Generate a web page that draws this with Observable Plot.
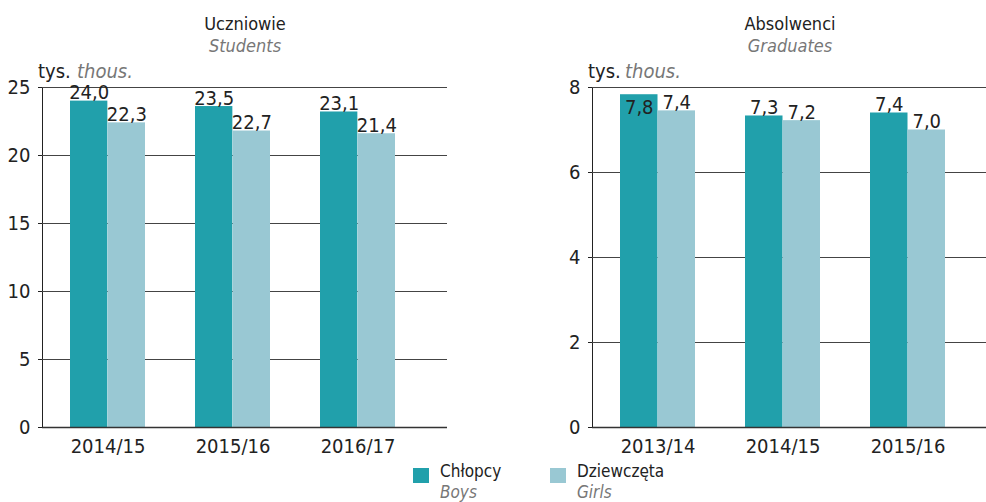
<!DOCTYPE html>
<html>
<head>
<meta charset="utf-8">
<script src="https://cdn.jsdelivr.net/npm/d3@7"></script>
<script src="https://cdn.jsdelivr.net/npm/@observablehq/plot@0.6"></script>
<style>
  html, body { margin: 0; padding: 0; background: #fff; }
  body { width: 986px; height: 502px; position: relative; overflow: hidden;
         font-family: "Liberation Sans Narrow", "DejaVu Sans Condensed", "Roboto Condensed", sans-serif; }
  .abs { position: absolute; white-space: nowrap; font-size: 20px; line-height: normal; }
  .t { font-size: 18px; }
  .lg { font-size: 17px; }
  .pl { color: #222; }
  .en { color: #777; font-style: italic; }
  .center { transform: translateX(-50%); }
  .sq { position: absolute; width: 16px; height: 15px; }
  .panel { position: absolute; top: 60px; }
</style>
</head>
<body>
<div class="abs t pl center" style="left:245px; top:13px;">Uczniowie</div>
<div class="abs t en center" style="left:245px; top:35px;">Students</div>
<div class="abs t pl center" style="left:790px; top:13px;">Absolwenci</div>
<div class="abs t en center" style="left:790px; top:35px;">Graduates</div>

<div id="left" class="panel" style="left:0px;"></div>
<div id="right" class="panel" style="left:540px;"></div>

<div class="abs pl" style="left:38px; top:59px;">tys.</div>
<div class="abs en" style="left:77px; top:59px;">thous.</div>
<div class="abs pl" style="left:588px; top:59px;">tys.</div>
<div class="abs en" style="left:625px; top:59px;">thous.</div>

<div class="sq" style="left:413px; top:468px; background:#21a0ab;"></div>
<div class="abs lg pl" style="left:440px; top:461px;">Chłopcy</div>
<div class="abs lg en" style="left:440px; top:482px;">Boys</div>
<div class="sq" style="left:550px; top:468px; background:#99c8d3;"></div>
<div class="abs lg pl" style="left:577px; top:461px;">Dziewczęta</div>
<div class="abs lg en" style="left:577px; top:482px;">Girls</div>

<script>
// ---- data ----
const studentYears = ["2014/15", "2015/16", "2016/17"];
const studentBoys = [24.0, 23.6, 23.2];
const studentGirls = [22.4, 21.8, 21.6];
const studentBoysLabels = ["24,0", "23,5", "23,1"];
const studentGirlsLabels = ["22,3", "22,7", "21,4"];
const studentTicks = [0, 5, 10, 15, 20, 25];

const gradYears = ["2013/14", "2014/15", "2015/16"];
const gradBoys = [7.83, 7.33, 7.40];
const gradGirls = [7.45, 7.22, 7.0];
const gradBoysLabels = ["7,8", "7,3", "7,4"];
const gradGirlsLabels = ["7,4", "7,2", "7,0"];
const gradTicks = [0, 2, 4, 6, 8];

const BOYS = "#21a0ab";
const GIRLS = "#99c8d3";
const FONT = '"Liberation Sans Narrow", "DejaVu Sans Condensed", "Roboto Condensed", sans-serif';

function panel({years, boys, girls, boysLabels, girlsLabels, ticks, width, marginLeft, marginRight, paddingOuter, align}) {
  const height = 399, marginTop = 27, marginBottom = 32;
  const ymax = ticks[ticks.length - 1];
  const paddingInner = 0.4;
  const r0 = marginLeft, r1 = width - marginRight;
  const step = (r1 - r0) / (years.length - paddingInner + 2 * paddingOuter);
  const bw = step * (1 - paddingInner);
  const rowsB = years.map((y, i) => ({year: y, value: boys[i], label: boysLabels[i]}));
  const rowsG = years.map((y, i) => ({year: y, value: girls[i], label: girlsLabels[i]}));
  const inside = d => d.value / ymax > 0.97;
  return Plot.plot({
    width, height, marginTop, marginBottom, marginLeft, marginRight,
    style: {fontFamily: FONT, fontSize: "20px", color: "#222", background: "transparent", overflow: "visible"},
    x: {type: "band", domain: years, paddingInner, paddingOuter, align, label: null,
        tickSize: 0, tickPadding: 11},
    y: {domain: [0, ymax], ticks, label: null, tickSize: 4, tickPadding: 8, line: true},
    marks: [
      Plot.ruleY(ticks.filter(t => t > 0), {stroke: "#444", strokeWidth: 1}),
      Plot.barY(rowsB, {x: "year", y: "value", fill: BOYS, insetRight: bw / 2}),
      Plot.barY(rowsG, {x: "year", y: "value", fill: GIRLS, insetLeft: bw / 2}),
      Plot.ruleY([0], {stroke: "#333", strokeWidth: 1.6}),
      Plot.text(rowsB.filter(d => !inside(d)), {x: "year", y: "value", text: "label", dx: -bw / 4, dy: -2,
        lineAnchor: "bottom", fill: "#222", fontSize: 20}),
      Plot.text(rowsB.filter(inside), {x: "year", y: "value", text: "label", dx: -bw / 4, dy: 5,
        lineAnchor: "top", fill: "#222", fontSize: 20}),
      Plot.text(rowsG, {x: "year", y: "value", text: "label", dx: bw / 4, dy: -2,
        lineAnchor: "bottom", fill: "#222", fontSize: 20})
    ]
  });
}

document.getElementById("left").append(panel({
  years: studentYears, boys: studentBoys, girls: studentGirls,
  boysLabels: studentBoysLabels, girlsLabels: studentGirlsLabels, ticks: studentTicks,
  width: 540, marginLeft: 42, marginRight: 93, paddingOuter: 0.3135, align: 0.356
}));
document.getElementById("right").append(panel({
  years: gradYears, boys: gradBoys, girls: gradGirls,
  boysLabels: gradBoysLabels, girlsLabels: gradGirlsLabels, ticks: gradTicks,
  width: 446, marginLeft: 52, marginRight: 0, paddingOuter: 0.276, align: 0.406
}));
</script>
</body>
</html>
